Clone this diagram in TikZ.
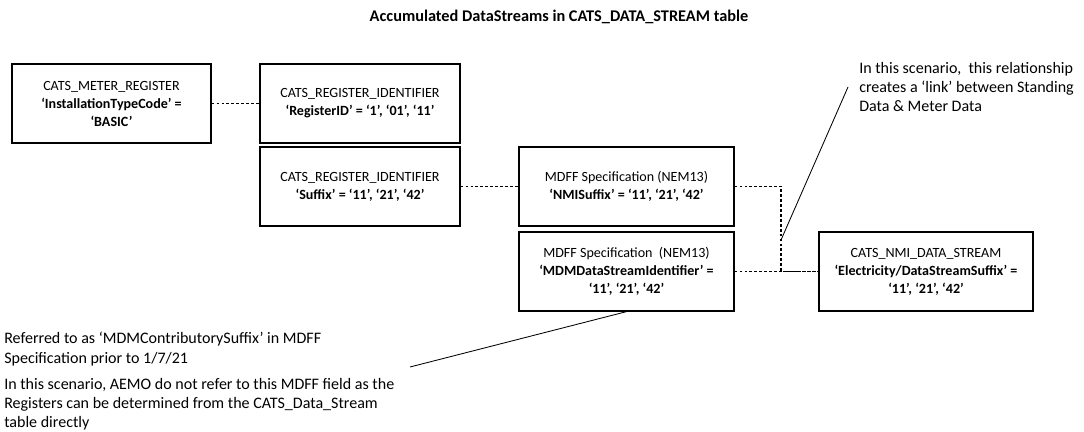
\documentclass[tikz,border=0pt]{standalone}
\usepackage{fontspec}
\setmainfont{Carlito}
\usetikzlibrary{positioning}

\begin{document}
\begin{tikzpicture}[x=0.025cm, y=-0.025cm,
        tbl/.style={draw, line width=0.9pt, minimum height=1.975cm, align=center,
                    font=\fontsize{10}{12.8}\selectfont},
        link/.style={line width=1.3pt, dash pattern=on 2pt off 1.5pt},
        note/.style={align=left, inner sep=0pt, font=\fontsize{11.4}{13.6}\selectfont}]
    \useasboundingbox (0,0) rectangle (1084,432);
    \node[font=\bfseries\fontsize{11.6}{13}\selectfont] (title) at (559,17) {Accumulated DataStreams in CATS\_DATA\_STREAM table};
    \node[tbl, minimum width=4.975cm] (metreg) at (111.5,103.5) {CATS\_METER\_REGISTER\\ \textbf{‘InstallationTypeCode’ =}\\ \textbf{‘BASIC’}};
    \node[tbl, minimum width=5cm] (regid) at (360,103.5) {CATS\_REGISTER\_IDENTIFIER\\ \textbf{‘RegisterID’ =  ‘1’, ‘01’, ‘11’}};
    \node[tbl, minimum width=5cm] (regsfx) at (360,186.5) {CATS\_REGISTER\_IDENTIFIER\\ \textbf{‘Suffix’ = ‘11’, ‘21’, ‘42’}};
    \node[tbl, minimum width=5.375cm] (mdffsfx) at (626.5,186.5) {MDFF Specification (NEM13)\\ \textbf{‘NMISuffix’ = ‘11’, ‘21’, ‘42’}};
    \node[tbl, minimum width=5.375cm] (mdffid) at (626.5,271.5) {MDFF Specification \ (NEM13)\\ \textbf{‘MDMDataStreamIdentifier’ =}\\ \textbf{‘11’, ‘21’, ‘42’}};
    \node[tbl, minimum width=5.35cm] (nmids) at (926,271.5) {CATS\_NMI\_DATA\_STREAM\\ \textbf{‘Electricity/DataStreamSuffix’ =}\\ \textbf{‘11’, ‘21’, ‘42’}};
    % notes
    \node[note, anchor=west] (linknote) at (859,87) {In this scenario, \ this relationship\\ creates a ‘link’ between Standing\\ Data \& Meter Data};
    \node[note, anchor=west] (refnote) at (4,349) {Referred to as ‘MDMContributorySuffix’ in MDFF\\ Specification prior to 1/7/21};
    \node[note, anchor=west] (aemonote) at (4,404) {In this scenario, AEMO do not refer to this MDFF field as the\\ Registers can be determined from the CATS\_Data\_Stream\\ table directly};
    \coordinate (jn) at (781,271.5);
    \coordinate (tip) at (781,240);
    \coordinate (aemoend) at (410,367);
    % links
    \draw[link] (metreg) -- (regid);
    \draw[link] (regsfx) -- (mdffsfx);
    \draw[link] (mdffsfx.east) -| (jn) -- (nmids.west);
    \draw[link] (mdffid) -- (nmids);
    \draw[line width=0.6pt] (tip) -- ([xshift=-0.275cm]linknote.west);
    \draw[line width=0.6pt] (mdffid.south) -- (aemoend);
\end{tikzpicture}
\end{document}
